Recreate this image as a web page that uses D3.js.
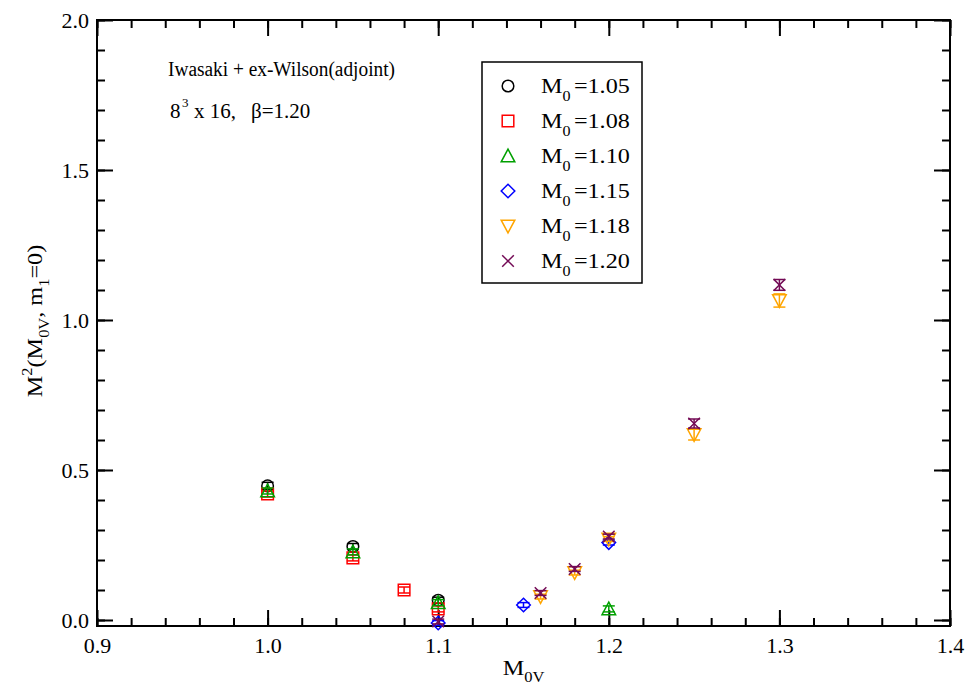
<!DOCTYPE html>
<html><head><meta charset="utf-8">
<script src="https://cdn.jsdelivr.net/npm/d3@7"></script>
<style>body{margin:0;background:#fff}svg{display:block}text{font-family:"Liberation Serif","Times New Roman",serif}</style>
</head><body><svg id="chart" width="978" height="686"></svg>
<script>
// ---- data ----
const seriesNames = ["M0=1.05","M0=1.08","M0=1.10","M0=1.15","M0=1.18","M0=1.20"];
const seriesLabels = ["1.05","1.08","1.10","1.15","1.18","1.20"];
const seriesColors = ["#000000","#ff0000","#00a000","#0000ff","#ffa500","#730a55"];
const seriesSymbols = ["circle","square","triangle","diamond","triangleDown","x"];
const x105 = [1.00,1.05,1.10];          const y105 = [0.447,0.245,0.066]; const e105=[0.012,0.010,0.010];
const x108 = [1.00,1.05,1.08,1.10];     const y108 = [0.420,0.207,0.100,0.037]; const e108=[0.010,0.010,0.010,0.010];
const x110 = [1.00,1.05,1.10,1.20];     const y110 = [0.430,0.227,0.058,0.037]; const e110=[0.010,0.010,0.010,0.010];
const x115 = [1.10,1.15,1.20];          const y115 = [-0.010,0.050,0.258]; const e115=[0.008,0.008,0.008];
const x118 = [1.16,1.18,1.20,1.25,1.30]; const y118 = [0.078,0.158,0.270,0.618,1.065]; const e118=[0.008,0.008,0.008,0.018,0.022];
const x120 = [1.10,1.16,1.18,1.20,1.25,1.30]; const y120 = [-0.005,0.090,0.170,0.278,0.655,1.117]; const e120=[0.008,0.008,0.008,0.008,0.015,0.018];
const seriesX = [x105,x108,x110,x115,x118,x120];
const seriesY = [y105,y108,y110,y115,y118,y120];
const seriesE = [e105,e108,e110,e115,e118,e120];
const xMajor = [0.9,1.0,1.1,1.2,1.3,1.4];
const yMajor = [0.0,0.5,1.0,1.5,2.0];

// ---- layout ----
const L=97, R=950, T=20, B=626;
const svg=d3.select("#chart");
const x=d3.scaleLinear().domain([0.9,1.4]).range([L,R]);
const y=d3.scaleLinear().domain([-0.02,2.0]).range([B,T]);
const xMinor=d3.range(0.9,1.4001,0.02).map(v=>+v.toFixed(2));
const yMinor=d3.range(0,2.0001,0.1).map(v=>+v.toFixed(1));

function styleAxis(g){g.select(".domain").remove();g.selectAll("line").attr("stroke","#000").attr("stroke-width",2);
  g.selectAll("text").attr("font-size",22).attr("fill","#000").attr("font-family","Liberation Serif");}
// bottom
svg.append("g").attr("transform",`translate(0,${B})`).call(d3.axisBottom(x).tickValues(xMinor).tickSize(-8).tickFormat("")).call(styleAxis);
svg.append("g").attr("transform",`translate(0,${B})`).call(d3.axisBottom(x).tickValues(xMajor).tickSize(-16).tickPadding(10).tickFormat(d3.format(".1f"))).call(styleAxis)
  .selectAll("text").attr("dy","0.75em");
// top
svg.append("g").attr("transform",`translate(0,${T})`).call(d3.axisTop(x).tickValues(xMinor).tickSize(-8).tickFormat("")).call(styleAxis);
svg.append("g").attr("transform",`translate(0,${T})`).call(d3.axisTop(x).tickValues(xMajor).tickSize(-16).tickFormat("")).call(styleAxis);
// left
svg.append("g").attr("transform",`translate(${L},0)`).call(d3.axisLeft(y).tickValues(yMinor).tickSize(-8).tickFormat("")).call(styleAxis);
svg.append("g").attr("transform",`translate(${L},0)`).call(d3.axisLeft(y).tickValues(yMajor).tickSize(-16).tickPadding(8).tickFormat(d3.format(".1f"))).call(styleAxis);
// right
svg.append("g").attr("transform",`translate(${R},0)`).call(d3.axisRight(y).tickValues(yMinor).tickSize(-8).tickFormat("")).call(styleAxis);
svg.append("g").attr("transform",`translate(${R},0)`).call(d3.axisRight(y).tickValues(yMajor).tickSize(-16).tickFormat("")).call(styleAxis);
// frame
svg.append("rect").attr("x",L).attr("y",T).attr("width",R-L).attr("height",B-T).attr("fill","none").attr("stroke","#000").attr("stroke-width",2);

// symbols
function symPath(kind){
  const s=5.8;
  switch(kind){
    case "circle": return `M${s},0A${s},${s},0,1,1,${-s},0A${s},${s},0,1,1,${s},0Z`;
    case "square": return `M${-s},${-s}H${s}V${s}H${-s}Z`;
    case "triangle": return `M0,${-s-1}L${s+1},${s}L${-s-1},${s}Z`;
    case "triangleDown": return `M0,${s+1}L${s+1},${-s}L${-s-1},${-s}Z`;
    case "diamond": return `M0,${-s-1}L${s+1},0L0,${s+1}L${-s-1},0Z`;
    case "x": return `M${-s},${-s}L${s},${s}M${-s},${s}L${s},${-s}`;
  }
}
function drawSym(g,kind,color,cx,cy){
  g.append("path").attr("d",symPath(kind)).attr("transform",`translate(${cx},${cy})`).attr("fill","none").attr("stroke",color).attr("stroke-width",1.5);
}
const plot=svg.append("g");
seriesNames.forEach((n,i)=>{
  const g=plot.append("g");
  const c=seriesColors[i];
  seriesX[i].forEach((xv,j)=>{
    const yv=seriesY[i][j], e=seriesE[i][j];
    const px=x(xv), y1=y(yv+e), y2=y(yv-e);
    g.append("line").attr("x1",px).attr("x2",px).attr("y1",y1).attr("y2",y2).attr("stroke",c).attr("stroke-width",1.5);
    [y1,y2].forEach(yy=>g.append("line").attr("x1",px-6).attr("x2",px+6).attr("y1",yy).attr("y2",yy).attr("stroke",c).attr("stroke-width",1.5));
    drawSym(g,seriesSymbols[i],c,px,y(yv));
  });
});

// legend
const lg=svg.append("g");
lg.append("rect").attr("x",482).attr("y",62).attr("width",160).attr("height",221).attr("fill","none").attr("stroke","#000").attr("stroke-width",1.5);
seriesNames.forEach((n,i)=>{
  const cy=86+i*35;
  drawSym(lg,seriesSymbols[i],seriesColors[i],508,cy);
  const t=lg.append("text").attr("transform",`translate(541,${cy+7}) scale(1.15,1)`).attr("font-size",21).attr("fill","#000");
  t.append("tspan").text("M");
  t.append("tspan").attr("dy",8).attr("font-size",14).text("0");
  t.append("tspan").attr("dy",-8).attr("dx",3).text("=" + seriesLabels[i]);
});

// annotations
svg.append("text").attr("x",168).attr("y",76).attr("font-size",20).attr("textLength",227).attr("lengthAdjust","spacingAndGlyphs").text("Iwasaki + ex-Wilson(adjoint)");
const a2=svg.append("text").attr("y",118).attr("font-size",21);
a2.append("tspan").attr("x",170).text("8");
a2.append("tspan").attr("x",182).attr("dy",-11).attr("font-size",13).text("3");
a2.append("tspan").attr("x",194).attr("dy",11).text("x 16,");
a2.append("tspan").attr("x",251).text("β=1.20");

// axis titles
const xt=svg.append("text").attr("transform",`translate(${(L+R)/2},675) scale(1.1,1)`).attr("font-size",22).attr("text-anchor","middle");
xt.append("tspan").text("M");
xt.append("tspan").attr("dy",7).attr("font-size",15).text("0V");
const yt=svg.append("text").attr("transform","translate(42,321) rotate(-90) scale(1.1,1)").attr("font-size",22).attr("text-anchor","middle");
yt.append("tspan").text("M");
yt.append("tspan").attr("dy",-10).attr("font-size",15).text("2");
yt.append("tspan").attr("dy",10).text("(M");
yt.append("tspan").attr("dy",7).attr("font-size",15).text("0V");
yt.append("tspan").attr("dy",-7).text(", m");
yt.append("tspan").attr("dy",7).attr("font-size",15).text("1");
yt.append("tspan").attr("dy",-7).text("=0)");
</script></body></html>
